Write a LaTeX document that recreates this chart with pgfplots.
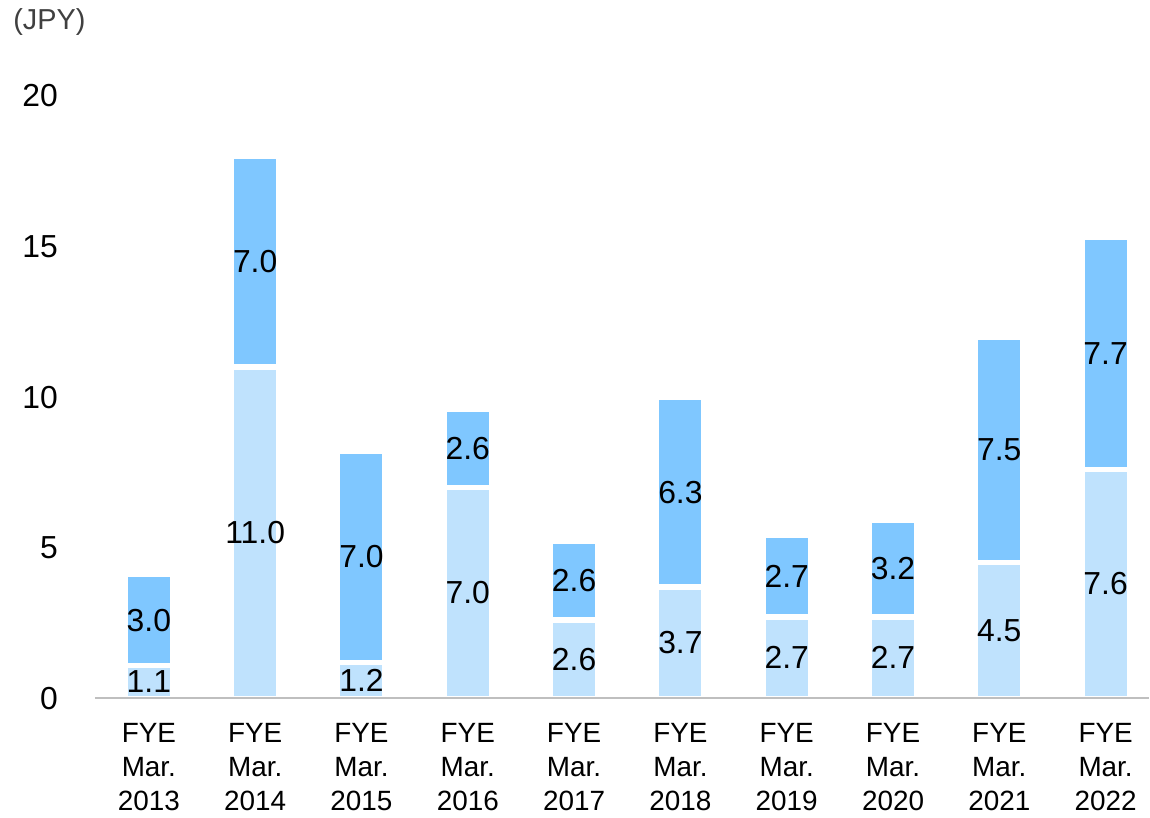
\documentclass[border=0pt]{standalone}
\usepackage{fontspec}
\setmainfont{Liberation Sans}
\usepackage{pgfplots}
\usepackage{pgfplotstable}
\pgfplotsset{compat=1.18}

\definecolor{seglo}{HTML}{BFE2FD}
\definecolor{seghi}{HTML}{7FC7FF}
\definecolor{axgray}{HTML}{BFBFBF}
\definecolor{unitgray}{HTML}{404040}

\pgfplotstableread{
x lo hi
0 1.1 3.0
1 11.0 7.0
2 1.2 7.0
3 7.0 2.6
4 2.6 2.6
5 3.7 6.3
6 2.7 2.7
7 2.7 3.2
8 4.5 7.5
9 7.6 7.7
}\dividends

\begin{document}
\begin{tikzpicture}
  \begin{axis}[
    scale only axis,
    width=527.5bp, height=301.5bp,
    xmin=-0.5075, xmax=9.408,
    ymin=0, ymax=20,
    ybar stacked,
    bar width=23.6bp,
    clip=false,
    axis on top,
    axis x line*=bottom,
    axis y line*=left,
    x axis line style={axgray, line width=1bp},
    y axis line style={draw=none},
    tick style={draw=none},
    ytick={0,5,10,15,20},
    xtick={0,...,9},
    xticklabels={{FYE\\Mar.\\2013},{FYE\\Mar.\\2014},{FYE\\Mar.\\2015},
      {FYE\\Mar.\\2016},{FYE\\Mar.\\2017},{FYE\\Mar.\\2018},
      {FYE\\Mar.\\2019},{FYE\\Mar.\\2020},{FYE\\Mar.\\2021},
      {FYE\\Mar.\\2022}},
    xticklabel style={align=center, font=\fontsize{14}{17}\selectfont, yshift=-9bp},
    yticklabel style={font=\fontsize{16}{19}\selectfont, xshift=-15bp},
    /pgf/number format/assume math mode=true,
    point meta=explicit symbolic,
    nodes near coords={\pgfplotspointmeta},
    every node near coord/.append style={
      anchor=center, font=\fontsize{16}{19}\selectfont, text=black},
  ]
    % lower part of each bar
    \addplot[fill=seglo, draw=white, line width=2.6bp]
      table[x=x, y=lo, meta=lo] {\dividends};
    % upper part
    \addplot[fill=seghi, draw=white, line width=2.6bp]
      table[x=x, y=hi, meta=hi] {\dividends};

    \node[anchor=west, inner sep=0, text=unitgray,
      font=\fontsize{14.5}{17}\selectfont, xshift=-41bp, yshift=37bp]
      at (rel axis cs:0,1) {(JPY)};
    % page size
    \path ([xshift=-47.5bp, yshift=-56bp]rel axis cs:0,0)
      rectangle ([yshift=48bp]rel axis cs:1,1);
  \end{axis}
\end{tikzpicture}
\end{document}
